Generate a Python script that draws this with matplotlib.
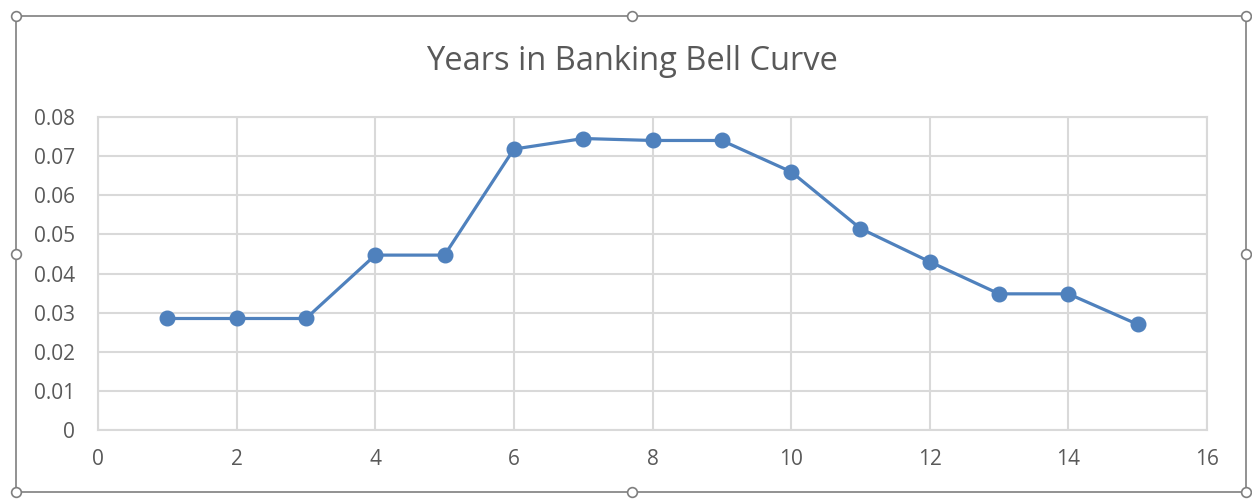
import matplotlib.pyplot as plt
from matplotlib.patches import Rectangle

# Data
years = [1, 2, 3, 4, 5, 6, 7, 8, 9, 10, 11, 12, 13, 14, 15]
density = [0.0285, 0.0285, 0.0285, 0.0447, 0.0447, 0.0718, 0.0745, 0.0740,
           0.0740, 0.0660, 0.0515, 0.0430, 0.0348, 0.0348, 0.0270]
x_ticks = [0, 2, 4, 6, 8, 10, 12, 14, 16]
y_ticks = [0, 0.01, 0.02, 0.03, 0.04, 0.05, 0.06, 0.07, 0.08]
y_labels = ['0', '0.01', '0.02', '0.03', '0.04', '0.05', '0.06', '0.07', '0.08']

plt.rcParams['font.family'] = ['Open Sans', 'DejaVu Sans']
text_col = '#595959'
grid_col = '#D9D9D9'
line_col = '#4F81BD'

fig = plt.figure(figsize=(12.52, 5.0), dpi=100)
ax = fig.add_axes([98 / 1252, 1 - 430 / 500, (1207 - 98) / 1252, (430 - 117) / 500])

ax.plot(years, density, color=line_col, linewidth=2.3, marker='o',
        markersize=10.5, zorder=3, solid_joinstyle='round')

ax.set_xlim(0, 16)
ax.set_ylim(0, 0.08)
ax.set_xticks(x_ticks)
ax.set_xticklabels([str(t) for t in x_ticks])
ax.set_yticks(y_ticks)
ax.set_yticklabels(y_labels)
ax.grid(True, color=grid_col, linewidth=1.5)
ax.set_axisbelow(True)
for s in ax.spines.values():
    s.set_color(grid_col)
    s.set_linewidth(1.5)
ax.tick_params(length=0, labelsize=15, labelcolor=text_col)
ax.tick_params(axis='y', pad=16.5)
ax.tick_params(axis='x', pad=14)

fig.text(632 / 1252, 1 - 62 / 500, 'Years in Banking Bell Curve', ha='center',
         va='center', fontsize=23.5, color=text_col)

# chart-object selection frame with handles
frame_col = '#7F7F7F'
fig.add_artist(Rectangle((16 / 1252, 1 - 492 / 500), (1246 - 16) / 1252, (492 - 16) / 500,
                         transform=fig.transFigure, fill=False, edgecolor=frame_col,
                         linewidth=1.2))
for hx in [16, 632, 1246]:
    for hy in [16, 254, 492]:
        if hx == 632 and hy == 254:
            continue
        fig.add_artist(plt.Line2D([hx / 1252], [1 - hy / 500], transform=fig.transFigure,
                                  marker='o', markersize=7, markerfacecolor='white',
                                  markeredgecolor=frame_col, markeredgewidth=1.2))

fig.savefig('out.png', dpi=100)
